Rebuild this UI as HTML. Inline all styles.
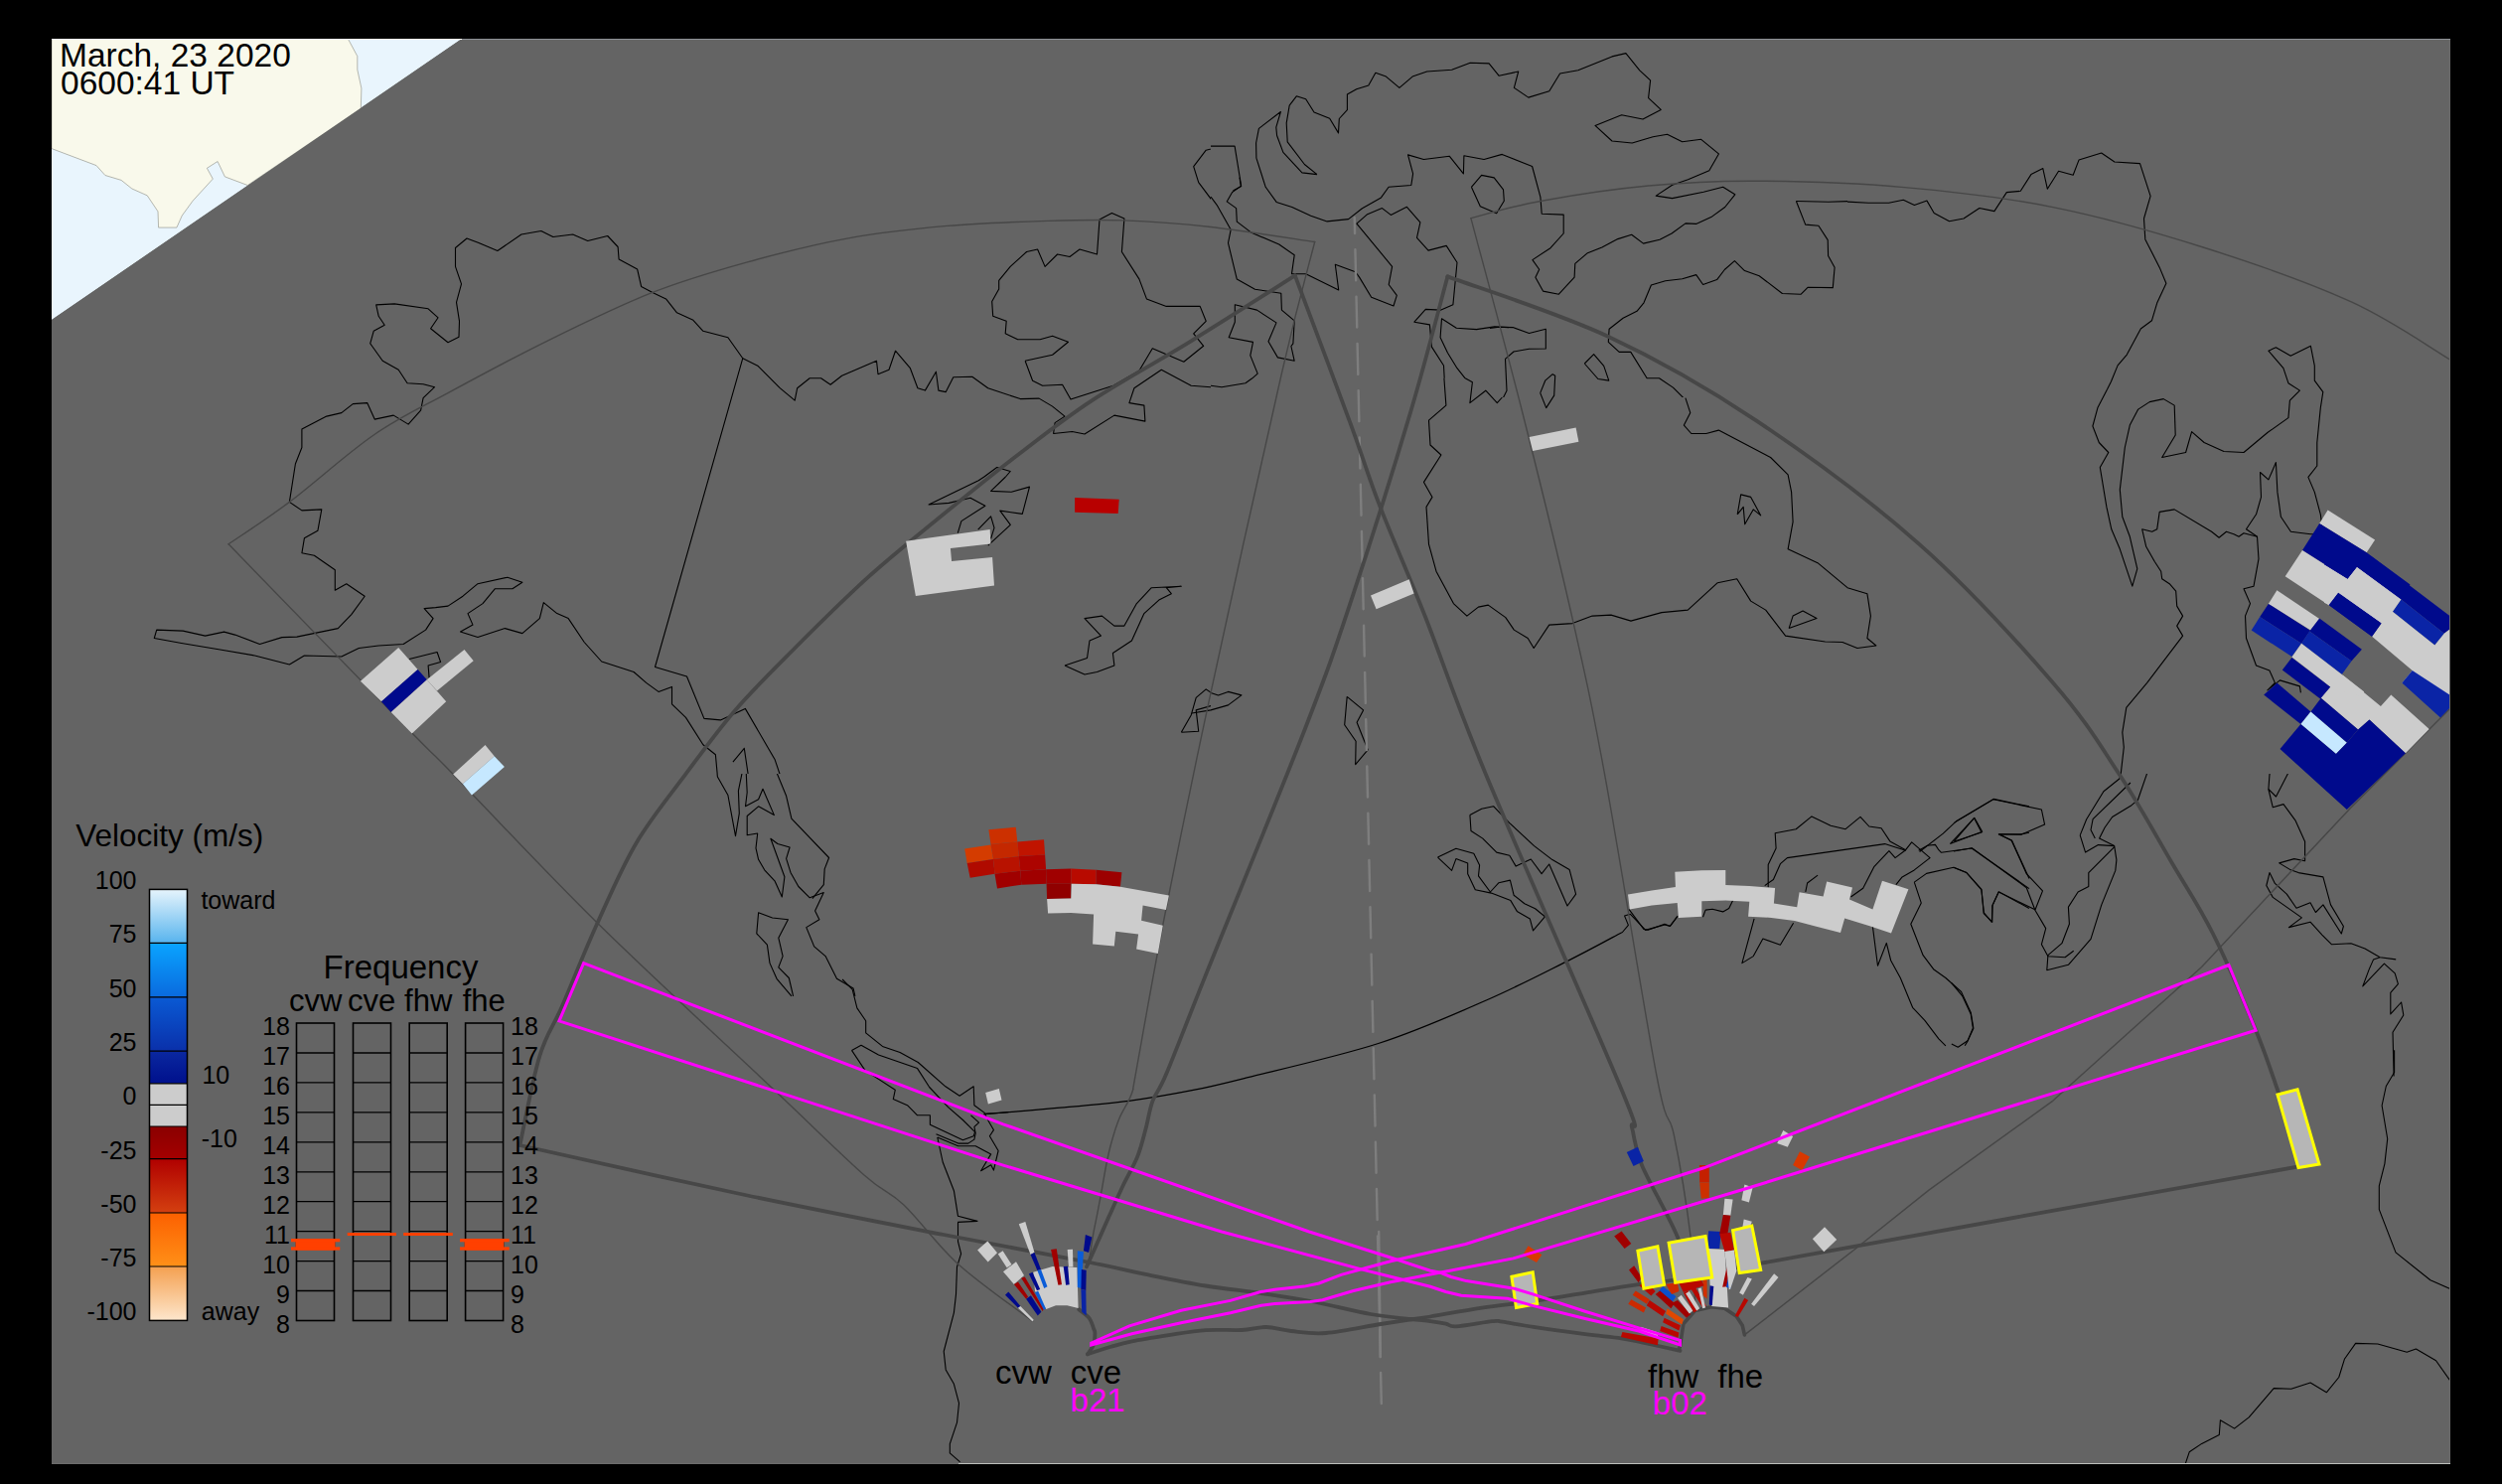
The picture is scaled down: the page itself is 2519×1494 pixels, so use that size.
<!DOCTYPE html>
<html><head><meta charset="utf-8">
<style>
html,body{margin:0;padding:0;background:#000;overflow:hidden}
svg{display:block}
text{font-family:"Liberation Sans",sans-serif}
</style></head><body>
<svg xmlns="http://www.w3.org/2000/svg" width="2519" height="1494" viewBox="0 0 2519 1494">
<defs>
<clipPath id="mc"><rect x="52" y="39" width="2415" height="1435"/></clipPath>
<clipPath id="cA"><rect x="52" y="39" width="1167" height="740"/></clipPath>
<clipPath id="cB"><rect x="1219" y="39" width="641" height="361"/></clipPath>
<clipPath id="cC"><polygon points="1860,39 2467,39 2467,779 1219,779 1219,400 1860,400"/></clipPath>
<clipPath id="cD"><rect x="52" y="779" width="1167" height="695"/></clipPath>
<clipPath id="cE"><rect x="1219" y="779" width="1248" height="695"/></clipPath>

<linearGradient id="g1" x1="0" y1="0" x2="0" y2="1"><stop offset="0" stop-color="#e6f4fc"/><stop offset="1" stop-color="#58b4ee"/></linearGradient>
<linearGradient id="g2" x1="0" y1="0" x2="0" y2="1"><stop offset="0" stop-color="#0aa4ff"/><stop offset="1" stop-color="#0a6ade"/></linearGradient>
<linearGradient id="g3" x1="0" y1="0" x2="0" y2="1"><stop offset="0" stop-color="#0a5ad4"/><stop offset="1" stop-color="#0a30aa"/></linearGradient>
<linearGradient id="g4" x1="0" y1="0" x2="0" y2="1"><stop offset="0" stop-color="#0a28a0"/><stop offset="1" stop-color="#00108c"/></linearGradient>
<linearGradient id="g5" x1="0" y1="0" x2="0" y2="1"><stop offset="0" stop-color="#8a0000"/><stop offset="1" stop-color="#a40000"/></linearGradient>
<linearGradient id="g6" x1="0" y1="0" x2="0" y2="1"><stop offset="0" stop-color="#b00000"/><stop offset="1" stop-color="#d44010"/></linearGradient>
<linearGradient id="g7" x1="0" y1="0" x2="0" y2="1"><stop offset="0" stop-color="#fc6000"/><stop offset="1" stop-color="#ff9018"/></linearGradient>
<linearGradient id="g8" x1="0" y1="0" x2="0" y2="1"><stop offset="0" stop-color="#f4a050"/><stop offset="1" stop-color="#fde6cc"/></linearGradient>

</defs>
<rect x="0" y="0" width="2519" height="1494" fill="#000"/>
<g clip-path="url(#mc)">
<rect x="52" y="39" width="2415" height="1435" fill="#646464"/>

<polygon points="52,39 465,39 52,322" fill="#e9f5fd"/>
<polygon points="52.0,39.1 350.4,39.1 359.8,56.6 359.8,70.1 363.9,88.9 363.3,109.2 249.3,186.5 226.4,177.9 219.1,162.5 208.4,169.3 214.3,180.1 194.1,202.2 183.3,217.0 177.9,229.1 159.6,229.1 159.0,212.9 148.2,196.8 132.9,190.0 122.1,181.4 105.9,176.5 97.0,166.6 52.0,149.6" fill="#f9f9eb" stroke="#8a8a80" stroke-width="0.6"/>
<polygon points="52,322.1 465,39 2467,39 2467,1474 52,1474" fill="#646464"/>

<g fill="none" stroke="#000" stroke-width="1.1" stroke-linejoin="round"><g clip-path="url(#cA)"><polyline points="747.8,360.7 732.9,339.8 707.9,333.3 697.9,322.3 681.5,314.8 670.5,300.9 657.0,294.4 645.6,288.4 641.6,270.9 623.1,261.0 622.1,248.5 611.7,237.5 591.7,242.5 576.7,236.0 556.8,238.5 544.8,232.5 524.9,236.0 500.9,252.5 482.0,244.5 470.0,240.0 458.5,249.5 458.5,268.4 464.5,285.9 459.5,304.4 462.5,323.3 462.0,339.3 451.0,344.8 433.6,330.8 441.1,319.8 431.1,310.8 397.2,305.9 378.7,306.9 381.2,318.3 387.2,327.3 376.2,333.3 372.7,345.8 385.2,363.2 401.2,372.2 410.1,385.7 426.1,386.7 437.6,389.7 426.1,400.6 423.6,413.1 411.1,427.1 396.2,418.1 377.2,422.1 369.7,405.6 355.3,406.6 343.8,415.6 328.8,419.1 303.9,432.1 303.9,450.5 297.4,467.0 291.4,505.4 303.9,513.9 323.8,512.9 319.9,534.3 306.4,541.8 303.9,556.8 316.4,559.2 337.3,573.7 337.3,594.2 348.8,587.7 367.2,600.2 353.8,618.6 340.3,632.6 298.9,641.1 283.9,641.6 261.5,648.5 236.6,639.1 225.6,636.1 206.6,640.1 184.2,635.1 157.7,634.1 155.3,642.5 182.7,647.5 221.6,654.0 256.5,660.0 291.4,669.0 306.4,660.0 343.8,661.0 361.3,652.5 381.2,650.0 406.1,648.5 428.6,634.1 436.1,622.6 427.1,612.6 438.6,611.6 451.0,610.1 466.0,600.2 481.0,587.7 510.9,581.2 525.9,586.2 515.9,592.7 498.4,592.7 486.0,607.6 471.0,617.6 476.0,629.1 463.5,636.1 481.0,641.6 508.4,632.6 525.9,637.6 543.3,622.6 547.3,606.6 560.8,617.6 572.2,622.6 588.2,646.5 605.7,666.0 638.1,676.5 650.6,687.4 663.0,696.4 676.5,691.4 676.5,708.9 690.5,722.4 707.9,749.8 720.4,759.8 722.9,787.2"/>
<polyline points="747.8,360.7 659.5,671.5 691.5,681.0 708.9,723.4 725.4,724.9 750.3,713.4 780.2,764.8 787.7,787.2"/>
<polyline points="412.1,663.5 440.1,656.5 443.6,666.5 431.1,670.0 432.1,682.5"/>
<polyline points="737.9,767.2 749.3,753.3 754.3,787.2"/>
<polyline points="747.8,360.7 762.8,368.2 785.2,390.7 800.2,403.1 802.7,390.7 815.2,380.7 826.6,380.7 836.1,387.2 847.6,378.2 882.5,363.2 884.0,376.7 895.0,372.2 901.5,353.2 916.4,370.7 923.9,390.7 931.4,393.1 942.4,374.2 944.9,393.1 952.3,394.6 959.8,379.7 978.8,379.2 994.7,390.7 1027.2,401.6 1046.1,401.1 1059.6,409.1 1072.0,419.1 1062.1,425.6 1060.6,436.5 1079.5,434.5 1092.0,437.0 1121.9,418.1 1152.9,424.1 1151.9,408.1 1136.9,405.6 1141.9,390.7 1169.3,372.2 1199.2,388.2 1230.7,390.7 1251.6,387.2 1266.6,375.7 1259.1,358.2 1259.1,345.8 1239.1,340.8 1243.1,308.4 1269.1,320.8 1284.0,328.3 1277.6,338.3 1289.0,358.2 1309.0,360.7"/>
<polyline points="1032.1,363.2 1039.6,383.2 1049.6,388.2 1069.6,387.2 1078.0,402.1 1120.9,388.2 1146.9,373.2 1160.3,350.8 1191.8,364.2 1211.7,348.3 1201.7,335.8 1214.2,323.3 1208.2,308.4 1174.3,308.4 1154.4,300.9 1146.9,280.9 1129.4,253.5 1131.9,220.1 1119.4,214.6 1107.0,221.1 1104.5,256.0 1087.0,251.0 1077.0,258.5 1064.6,256.0 1052.1,268.4 1044.6,251.0 1033.6,253.5 1017.2,268.4 1005.7,282.4 1005.7,290.9 998.7,303.4 999.7,318.3 1013.2,323.3 1012.2,335.8 1024.7,341.8 1047.1,341.8 1059.6,338.3 1075.5,344.3 1059.6,357.2 1032.1,363.2"/>
<polyline points="1309.0,233.5 1264.1,213.6 1251.6,208.6 1243.1,201.1 1234.2,197.6 1248.1,186.1 1244.1,147.7 1234.2,146.2 1214.2,151.2 1201.7,167.7 1206.7,183.7 1221.7,203.6 1238.1,231.0 1244.1,263.5 1253.1,288.4 1289.0,295.9 1290.0,310.8 1309.0,315.8"/>
<polyline points="1289.0,112.8 1266.6,128.8 1259.1,148.7 1264.1,168.7 1273.1,183.7 1284.0,193.6 1309.0,208.6"/>
<polyline points="1289.0,112.8 1291.5,138.8 1309.0,158.7"/>
<polyline points="1072.0,670.0 1092.0,679.0 1104.5,676.5 1121.9,670.0 1120.4,657.5 1139.4,645.0 1151.9,617.6 1166.8,604.1 1179.3,597.7 1174.3,591.7 1189.3,590.2 1159.3,591.7 1144.4,607.6 1131.9,630.1 1121.9,630.1 1109.5,620.1 1092.0,622.6 1108.5,640.1 1097.0,645.0 1094.5,662.5 1072.0,670.0"/>
<polyline points="1189.3,737.3 1206.7,736.3 1204.2,714.9 1221.7,709.9 1249.1,699.9 1231.7,692.4 1219.2,697.4 1214.2,693.9 1204.2,702.4 1199.2,719.9 1189.3,737.3"/>
<polyline points="964.3,536.6 967.9,524.6 991.9,509.3 977.0,501.3 955.4,506.4 935.1,508.0 985.2,483.8 990.9,480.0"/>
<polyline points="990.9,480.0 1003.7,470.5 1017.2,474.5 1012.5,480.0"/>
<polyline points="1012.5,480.0 997.6,494.4 1018.3,495.3 1036.5,490.1 1029.3,517.4 1006.8,514.1 1017.3,528.4 994.8,549.1"/>
<polyline points="984.7,533.2 997.6,519.8 1001.0,531.3 997.6,542.4"/></g>
<g clip-path="url(#cB)"><polyline points="1326.0,175.6 1310.9,173.9 1291.9,153.4 1285.6,136.5 1284.8,128.1 1289.4,112.5 1267.4,129.4 1264.6,144.0 1264.9,159.2 1274.2,188.3 1285.1,203.4 1300.8,208.5 1319.7,217.3 1336.1,222.9 1357.6,220.6 1371.5,209.7 1390.5,198.9 1398.1,188.3 1420.8,186.5 1422.6,174.9 1417.5,155.9 1433.4,160.5 1459.2,157.2 1473.4,174.9 1473.9,156.7 1494.1,160.5 1512.3,155.4 1542.6,167.5 1550.9,198.4 1552.2,215.3 1574.2,216.1 1574.2,235.0 1561.0,249.7 1542.9,261.6 1549.7,271.2 1545.9,279.2 1553.5,293.1 1569.4,296.2 1585.1,279.2 1585.8,265.3 1598.4,254.7 1612.9,248.9 1628.8,240.6 1642.7,236.3 1654.5,245.1 1671.0,241.3 1683.1,235.0 1697.0,224.9 1707.6,225.4 1722.8,218.6 1736.7,208.5 1746.8,195.8 1734.7,188.3 1715.2,193.3 1683.6,199.6 1667.2,197.1 1683.6,186.2 1699.5,180.7 1720.8,171.8 1730.4,154.9 1712.7,140.3 1693.7,142.8 1678.6,135.2 1664.2,137.7 1643.2,144.0 1623.0,142.0 1606.0,126.4 1632.6,115.7 1654.0,120.0 1672.2,110.4 1659.6,98.6 1661.6,80.9 1650.8,70.8 1636.9,53.6 1623.0,56.9 1588.8,70.8 1570.6,74.0 1559.8,91.7 1538.8,98.1 1524.4,88.4 1528.7,72.0 1509.2,76.3 1499.1,63.9 1480.2,63.2 1461.7,70.3 1436.7,72.0 1422.1,77.1 1408.9,88.4 1395.5,77.1 1384.9,73.3 1377.8,85.9 1365.7,89.7 1356.4,95.0 1356.4,110.7 1348.3,119.5 1347.5,133.9 1338.7,119.3 1323.0,113.0 1314.7,99.8 1305.3,96.8 1298.2,106.1 1295.2,123.8 1296.2,142.8 1313.4,165.5 1326.0,175.6"/>
<polyline points="1219.0,198.2 1225.1,206.3 1239.2,231.2 1236.5,244.7 1245.3,281.1 1263.5,291.2 1289.8,295.2 1290.4,312.1 1303.2,322.9 1301.9,345.8 1299.9,348.5 1303.2,363.3 1286.4,359.9 1277.0,343.7 1285.0,324.9 1265.5,312.1 1243.3,306.7 1243.3,324.2 1237.2,339.7 1261.5,344.4 1258.8,357.9 1266.2,376.1 1260.8,380.8"/>
<polyline points="1260.8,380.8 1253.9,385.7 1230.0,389.7 1219.0,388.2 1200.0,386.0"/>
<polyline points="1248.0,178.7 1249.3,187.4 1240.6,193.5 1235.2,202.9 1244.6,209.6 1245.3,223.1 1259.4,233.9 1287.7,246.0 1303.2,256.8 1300.5,275.7 1314.7,275.7 1347.7,291.9 1344.3,266.3 1364.6,273.7 1368.6,279.1 1380.7,299.3 1403.0,308.0 1406.3,297.3 1398.2,286.5 1401.6,268.3 1365.9,225.1 1376.7,215.7 1391.5,209.6 1400.3,216.4 1416.4,208.3 1429.9,223.8 1426.5,239.3 1438.0,252.1 1456.2,247.4 1467.0,264.2 1462.9,306.7 1450.8,312.1 1435.3,311.4 1423.9,324.2 1439.4,326.9 1441.4,349.1 1453.5,368.0 1454.2,380.8"/>
<polyline points="1475.1,380.8 1467.0,370.7 1457.5,355.2 1450.1,339.7 1451.5,320.8 1466.3,330.3 1486.5,331.6 1504.7,328.9 1519.0,329.6"/>
<polyline points="1481.4,188.3 1491.6,176.4 1504.2,178.9 1513.5,190.8 1514.3,202.2 1506.7,214.8 1490.3,207.7 1481.4,188.3"/>
<polyline points="1808.4,202.5 1840.9,203.3 1862.6,202.5"/>
<polyline points="1808.4,202.5 1817.7,226.1 1830.9,227.3 1840.2,241.6 1840.6,257.6 1847.1,269.2 1845.3,289.6 1820.0,289.3 1813.0,296.3 1794.4,295.5 1771.2,277.7 1756.5,272.6 1746.4,262.7 1736.3,271.5 1728.6,281.6 1714.6,286.5 1707.7,276.6 1693.7,280.8 1676.7,282.7 1662.4,287.0 1655.0,304.8 1648.0,313.3 1634.1,320.3 1620.1,331.2 1619.3,344.3 1630.2,354.4 1641.8,354.4 1658.1,380.8 1670.5,380.8 1684.4,390.1 1696.8,402.5"/>
<polyline points="1500.0,330.4 1509.3,329.2 1523.2,329.6 1539.5,335.5 1556.3,331.2 1556.3,351.0 1539.5,351.3 1524.0,354.0 1515.5,361.4 1517.0,393.2 1512.4,402.5"/>
<polyline points="1595.3,366.0 1604.6,356.7 1614.7,368.4 1619.8,383.1 1608.9,381.5 1595.3,366.0"/>
<polyline points="1217.4,147.1 1243.1,147.1 1249.7,187.5 1241.4,192.1"/></g>
<g clip-path="url(#cC)"><polyline points="1854.7,202.9 1881.1,204.2 1901.7,204.2 1916.3,201.3 1927.4,206.5 1940.0,202.1 1947.2,214.5 1962.5,222.7 1977.0,220.0 1992.9,209.5 2007.9,212.6 2020.3,193.6 2034.3,192.3 2044.9,175.6 2056.8,169.6 2061.3,190.2 2072.6,172.2 2087.2,176.2 2093.0,161.1 2115.7,154.0 2128.9,163.0 2154.5,164.6 2165.1,197.3 2158.5,220.0 2159.8,240.9 2174.3,269.4 2180.9,285.3 2171.7,305.1 2166.4,322.8 2155.3,331.0 2141.3,357.1 2132.1,367.9 2125.4,384.3 2121.5,392.0"/>
<polyline points="2121.5,392.0 2111.9,410.6 2106.9,429.0 2113.3,445.5 2122.8,455.5 2114.3,470.5 2120.9,510.4 2125.8,532.8 2134.3,552.8 2146.8,590.2 2151.8,572.7 2144.3,540.3 2136.8,520.3 2134.3,492.9 2139.3,450.5 2144.3,428.1 2152.7,412.1 2164.2,404.6 2178.2,401.6 2189.2,408.1 2190.2,438.0 2176.7,460.5 2200.6,455.5 2206.6,434.6 2219.1,445.5 2239.0,454.5 2259.0,455.5 2282.9,435.5 2303.9,420.6 2305.4,403.1 2315.4,393.1 2303.9,385.7 2298.9,370.7 2283.9,353.2 2291.4,349.7 2306.2,358.2 2326.4,348.3 2330.3,368.2 2330.3,383.2 2338.8,394.6 2336.3,410.6 2332.8,445.5 2332.8,469.0 2323.9,480.4 2330.3,495.4 2336.3,517.8 2338.8,537.8"/>
<polyline points="2338.8,537.8 2326.3,537.8 2306.4,535.3 2296.4,520.3 2292.9,495.4 2291.4,465.5 2283.9,482.9 2275.5,475.5 2276.5,500.4 2271.5,517.8 2261.5,532.8 2272.5,540.3 2274.0,562.7 2269.0,590.2 2259.0,592.7 2265.5,607.6 2260.5,620.1 2261.5,642.5 2271.5,670.0 2284.9,675.0 2290.4,687.4 2282.9,694.9 2295.4,684.9 2315.4,690.9 2316.4,697.4"/>
<polyline points="2272.5,540.3 2259.0,536.8 2254.0,540.3 2249.0,537.8 2241.5,535.3 2234.1,541.3 2226.6,535.3 2189.2,512.9 2174.2,515.4 2171.7,532.8 2166.7,535.3 2156.7,532.8 2160.7,550.3 2169.2,565.2 2175.7,575.2 2176.7,582.7 2184.2,587.7 2190.7,595.2 2191.7,610.1 2197.6,620.1 2191.7,630.1 2197.6,640.1 2161.7,687.4 2140.8,712.4 2136.8,737.3 2138.3,752.3 2134.3,787.2"/></g>
<g clip-path="url(#cD)"><polyline points="764.5,705.0 780.2,765.4 777.6,767.2 791.6,801.3 796.9,824.1 834.6,863.5 830.2,874.9 829.3,890.7 817.9,904.7"/>
<polyline points="698.8,740.0 710.2,754.9 720.7,764.5 722.4,782.1 732.9,800.5 740.5,841.6 744.3,818.9 743.4,796.1 747.0,778.6 736.4,764.5 746.1,767.2 751.3,752.3 754.8,768.0 751.3,779.4 752.2,797.8 750.5,811.8 763.6,804.8 768.0,794.3 779.4,820.6 763.6,811.8 752.2,821.5 752.2,840.8 762.7,839.0 761.0,853.9 763.6,865.3 769.7,875.8 780.2,887.2 787.3,903.0 789.9,882.8 775.9,844.3 782.9,849.5 795.1,853.0 791.6,864.4 796.0,878.4 803.9,892.5 815.3,903.8 829.3,898.6 820.6,917.0 824.9,925.8 811.8,933.6 819.7,952.9 831.1,962.6 842.5,985.3 859.1,995.0 860.9,1002.9"/>
<polyline points="798.6,1002.9 794.3,984.5 783.8,973.9 788.1,962.6 783.8,944.2 793.4,925.8 777.6,924.0 763.6,918.7 761.8,939.8 772.4,951.2 775.0,969.6 782.0,985.3 796.9,1002.9"/>
<polyline points="848.1,986.0 858.2,996.1 862.9,1014.9 871.7,1027.7 871.7,1039.9 888.5,1053.4 906.1,1059.4 924.3,1069.5 951.9,1093.8 966.1,1103.2 980.2,1093.8 980.9,1112.7 991.0,1120.1 995.0,1128.2 1000.4,1137.6 996.4,1143.7 1005.1,1158.5 1000.4,1178.1 997.7,1172.7 987.6,1178.7 997.7,1161.9 982.2,1153.8 964.7,1153.8 943.8,1145.0"/>
<polyline points="857.5,1057.4 867.0,1052.3 884.5,1062.1 923.6,1075.6 935.7,1094.5 954.6,1114.7 969.4,1127.5 981.6,1139.6 980.2,1143.7 969.4,1147.7 936.4,1132.2 936.4,1122.8 923.6,1122.8 913.5,1112.7 899.3,1106.6 901.3,1097.2 871.0,1077.6 857.5,1057.4"/>
<polyline points="977.5,1122.8 985.6,1130.2 980.9,1134.3 982.2,1141.0 980.9,1147.1 974.8,1151.1 964.7,1151.1 942.5,1141.7"/>
<polyline points="991.0,1121.4 1001.8,1120.8 1015.3,1119.7"/>
<polyline points="943.8,1145.0 949.2,1170.0 960.4,1198.7 964.5,1224.3 984.0,1229.4 964.5,1230.4 964.5,1249.9 967.6,1262.2 963.5,1275.5 962.5,1303.1 960.4,1321.6 950.2,1360.5 952.2,1378.9 960.4,1393.3 965.5,1412.7 963.5,1432.2 956.3,1453.7 956.3,1462.9 966.6,1471.9"/></g>
<g clip-path="url(#cE)"><polyline points="1447.5,863.1 1465.9,854.2 1483.8,859.2 1489.6,871.0 1488.5,881.8 1500.4,898.0 1509.0,888.7 1520.4,886.1 1524.1,901.2 1534.9,909.8 1545.6,914.8 1555.4,922.8 1543.5,936.8 1540.3,924.9 1527.3,917.4 1520.9,906.6 1501.4,899.1 1485.3,895.8 1477.7,879.7 1477.7,868.9 1465.9,864.6 1461.6,876.4 1447.5,863.1"/>
<polyline points="1479.9,820.4 1491.7,814.3 1503.6,811.7 1519.8,828.6 1544.6,851.6 1562.9,865.6 1580.1,875.4 1586.6,900.1 1578.0,912.0 1559.7,870.0 1552.1,879.7 1541.3,865.0 1526.2,872.1 1519.8,861.3 1506.8,858.1 1492.8,844.1 1481.0,836.5 1479.9,820.4"/>
<polyline points="1633.0,939.0 1639.4,931.4 1635.6,922.1 1641.2,920.2 1644.8,923.9 1656.7,936.4 1666.4,933.6 1676.1,931.0 1681.5,932.5 1689.0,922.1"/>
<polyline points="1640.0,915.3 1654.9,935.4 1659.3,936.3 1666.3,933.7 1675.9,930.2 1681.2,932.3 1689.1,922.3"/>
<polyline points="1714.5,923.2 1717.1,916.1 1724.1,915.3 1734.6,917.9 1740.7,914.4 1745.1,905.6"/>
<polyline points="1780.2,893.4 1780.2,870.6 1788.1,854.0 1787.2,838.7 1808.2,834.7 1824.0,821.9 1843.2,831.2 1858.1,834.7 1873.0,822.4 1881.8,832.0 1894.1,833.8 1902.8,846.9 1918.6,855.7 1924.7,847.8 1943.1,863.6 1927.3,875.9 1915.1,882.9 1908.9,890.7"/>
<polyline points="1776.7,891.6 1785.4,885.5 1792.4,869.7 1799.4,863.6 1897.6,849.6 1918.6,856.2"/>
<polyline points="1863.4,903.0 1875.7,894.2 1887.0,872.3 1901.9,856.6 1908.1,863.6 1918.6,855.7"/>
<polyline points="1830.1,881.1 1819.6,889.0 1817.8,897.8"/>
<polyline points="1766.1,924.9 1753.9,969.6 1765.3,962.6 1774.9,945.1 1792.4,951.2 1805.6,929.3"/>
<polyline points="1931.7,856.2 1940.5,851.3 1948.4,850.4 1951.9,855.7 1954.5,858.3 1985.2,854.0 2043.0,894.6"/>
<polyline points="1932.6,857.5 1956.3,839.1 1969.4,826.8 2007.1,804.4 2043.0,811.9"/>
<polyline points="1963.3,849.6 1987.8,823.3 1995.7,837.3 1963.3,849.6"/>
<polyline points="2043.0,838.2 2034.2,839.9 2012.3,839.9 2025.5,846.1 2043.0,884.6"/>
<polyline points="1927.3,888.1 1939.6,879.4 1966.8,873.2 1979.9,878.5 1994.8,895.1 1997.4,918.8 2005.3,928.4 2006.2,910.9 2012.3,897.8 2043.0,914.4"/>
<polyline points="1927.3,888.1 1934.3,909.1 1923.8,930.2 1936.1,961.7 1946.6,975.7 1958.9,984.5 1974.6,998.5 1984.3,1019.5 1986.9,1035.3 1980.8,1048.4 1978.2,1052.8"/>
<polyline points="1885.3,931.9 1890.5,972.2 1899.3,949.4 1903.7,967.0 1913.3,984.5 1925.6,1014.3 1937.9,1027.4 1951.9,1045.8 1958.9,1052.8"/>
<polyline points="2094.2,840.9 2100.7,824.7 2117.9,796.7 2134.1,783.7 2139.5,757.8"/>
<polyline points="2140.6,757.8 2146.0,765.4 2162.1,777.2 2152.4,805.3 2146.0,810.7 2126.6,822.5 2119.0,833.3 2113.6,844.1 2128.7,851.6"/>
<polyline points="2094.2,840.9 2099.6,858.1 2112.5,850.6 2128.7,851.6 2130.9,865.6 2129.8,876.4 2115.8,910.9 2105.0,945.4 2082.4,971.3 2060.8,976.7 2061.9,961.6 2075.9,949.7 2083.4,930.3 2082.4,913.1 2092.1,898.0 2102.8,892.6 2102.8,878.6 2128.7,852.7"/>
<polyline points="2144.9,788.0 2107.1,824.7 2105.0,835.5 2109.3,844.1"/>
<polyline points="1967.0,828.6 2006.9,804.8 2055.4,815.0 2058.6,830.1 2034.9,840.2 2012.7,839.8 2025.2,846.2 2040.3,879.7 2056.5,896.9 2048.9,916.3"/>
<polyline points="1967.0,847.3 1995.0,838.1 1987.5,823.6 1967.0,847.3"/>
<polyline points="1967.0,857.0 1985.3,853.8 2040.3,893.7 2048.9,916.3 2059.7,934.6 2055.4,950.8 2061.9,962.7 2079.1,963.8 2087.7,957.3"/>
<polyline points="1967.0,873.2 1979.9,878.6 1995.0,895.8 1997.2,919.6 2005.8,928.2 2005.8,912.0 2012.3,898.0 2048.9,915.7"/>
<polyline points="2294.7,757.8 2285.0,779.4 2283.9,794.5 2291.5,802.0 2310.9,764.3"/>
<polyline points="2283.9,794.5 2288.3,812.8 2299.0,809.6 2310.9,825.8 2320.6,847.3 2320.6,866.7 2309.8,864.6 2294.7,868.9 2305.5,875.4 2314.1,878.6 2338.9,882.9 2346.5,910.9 2359.4,932.5 2357.3,940.0 2338.9,910.9 2331.4,918.5 2326.0,908.8 2312.0,914.2 2302.3,900.1 2290.4,889.4 2285.0,878.6 2281.8,891.5 2288.3,903.4 2317.4,923.9 2304.4,933.6 2326.0,928.2 2337.8,941.1 2347.6,950.8 2367.0,949.7 2381.0,955.1 2396.1,963.8 2412.2,965.9"/>
<polyline points="2396.1,963.8 2389.6,965.9 2385.3,975.6 2378.8,992.9 2400.4,970.2 2411.2,979.9 2414.4,990.7 2406.8,999.3 2406.8,1020.9 2417.6,1009.0 2419.8,1022.0 2409.0,1039.2 2410.1,1083.4"/>
<polyline points="1964.8,989.6 1975.6,1002.6 1984.2,1020.9 1986.4,1034.9 1981.0,1047.8 1971.3,1054.3 1964.8,1051.1"/>
<polyline points="2410.6,1057.2 2410.6,1079.5 2402.3,1093.5 2398.1,1113.0 2403.7,1146.5 2400.9,1171.6 2395.3,1193.9 2395.3,1217.6 2412.0,1260.9 2446.9,1288.8 2469.2,1298.6"/>
<polyline points="2198.6,1478.5 2204.2,1461.8 2216.7,1453.4 2234.3,1444.5 2235.4,1429.7 2249.6,1438.1 2264.2,1426.9 2289.3,1397.6 2306.8,1398.2 2326.1,1392.0 2342.3,1401.8 2354.8,1386.5 2360.4,1368.3 2371.6,1352.4 2393.9,1353.0 2423.2,1361.3 2432.4,1358.0 2452.5,1369.7 2469.2,1393.4"/></g>
<g><polyline points="1453.9,380.7 1455.9,408.1 1438.5,423.1 1440.0,448.0 1450.9,458.0 1433.5,485.4 1442.0,500.4 1436.0,510.4 1438.5,547.8 1446.0,575.2 1463.4,607.6 1476.9,620.1 1488.4,611.1 1498.3,609.1 1515.8,621.6 1524.3,634.1 1538.2,642.5 1544.2,652.5 1559.7,629.1 1583.1,627.6 1603.1,620.1 1622.0,619.1 1642.0,625.1 1672.9,616.6 1699.3,614.1 1729.3,586.7 1748.7,582.7 1762.7,605.1 1777.7,614.1 1797.6,640.1 1837.5,646.0 1855.0,646.5 1869.9,652.5 1888.9,650.0 1879.9,642.5 1883.4,620.1 1879.9,597.7 1860.0,591.7 1845.0,579.2 1830.0,566.7 1800.1,552.8 1805.1,525.3 1803.6,495.4 1800.1,477.9 1782.6,460.5 1730.3,433.1 1717.8,436.5 1702.8,436.5 1695.4,428.1 1701.8,415.6 1696.9,400.6"/>
<polyline points="1512.4,400.0 1507.3,405.6 1495.8,393.2 1479.9,405.6 1482.4,384.7 1475.1,380.8"/>
<polyline points="1550.7,395.6 1555.7,383.2 1563.2,376.7 1565.7,378.2 1564.7,398.1 1556.7,410.6 1550.7,395.6"/>
<polyline points="1749.2,517.9 1752.7,497.9 1762.7,500.4 1772.7,518.9 1765.2,512.9 1756.7,527.8 1755.2,510.4 1749.2,517.9"/>
<polyline points="1801.1,632.6 1805.1,620.1 1815.1,615.1 1829.0,622.6 1801.1,632.6"/>
<polyline points="1219.0,697.4 1226.5,699.9 1236.5,696.4 1249.9,699.9 1236.5,709.9 1219.0,714.9 1200.0,718.0"/>
<polyline points="1356.2,701.4 1372.6,714.9 1366.1,727.3 1377.1,754.8 1364.7,769.7 1365.1,746.3 1353.7,729.8 1356.2,701.4"/></g></g>
<polyline points="1363.7,219 1389.8,1366" fill="none" stroke="#7e7e7e" stroke-width="2.4" stroke-linejoin="round" stroke-linecap="round" stroke-dasharray="31,16.3" stroke-dashoffset="15" stroke-linecap="butt"/>
<polyline points="1388.2,1240 1389.8,1366" fill="none" stroke="#7e7e7e" stroke-width="2.4" stroke-linejoin="round" stroke-linecap="round" stroke-linecap="butt"/>
<polyline points="1390.1,1382 1390.8,1413" fill="none" stroke="#7e7e7e" stroke-width="2.4" stroke-linejoin="round" stroke-linecap="round" stroke-linecap="butt"/>
<path d="M990.9,1121.7 C1002.7,1120.7 1037.2,1117.9 1061.5,1115.7 C1085.8,1113.5 1113.4,1111.3 1136.5,1108.3 C1159.6,1105.3 1180.9,1101.5 1200.1,1097.7 C1219.3,1094.0 1220.5,1093.7 1251.8,1085.8 C1283.1,1077.9 1346.9,1063.6 1387.7,1050.5 C1428.5,1037.4 1464.7,1020.8 1496.4,1007.0 C1528.1,993.2 1555.3,978.9 1578.0,967.6 C1600.7,956.3 1623.3,943.8 1632.4,939.0" fill="none" stroke="#000" stroke-width="1.3" stroke-linejoin="round" stroke-linecap="round"/>
<path d="M1039.6,1330.1 C1027.1,1320.5 986.4,1292.2 964.8,1272.7 C943.2,1253.2 925.7,1227.9 909.9,1212.9 C894.1,1197.9 891.8,1202.2 870.0,1182.9 C848.2,1163.6 824.3,1139.7 779.4,1097.3 C734.5,1054.9 654.6,981.5 600.7,928.5 C546.8,875.5 487.6,811.6 456.0,779.2 C424.4,746.8 448.6,772.6 411.0,734.0 C373.4,695.4 260.2,578.8 230.1,547.8" fill="none" stroke="#474747" stroke-width="1.4" stroke-linejoin="round" stroke-linecap="round"/>
<path d="M230.1,547.8 C240.3,540.7 267.0,523.7 291.4,505.4 C315.8,487.1 349.6,456.3 376.2,438.0 C402.8,419.7 421.9,411.4 451.0,395.6 C480.1,379.8 516.5,360.2 550.8,343.3 C585.1,326.4 623.5,307.6 657.0,294.4 C690.5,281.2 719.0,273.2 751.6,264.1 C784.2,255.1 819.0,246.2 852.7,240.1 C886.4,234.0 920.1,230.3 953.8,227.4 C987.5,224.5 1025.4,223.3 1054.9,222.4 C1084.4,221.5 1103.4,220.9 1130.7,221.9 C1158.0,222.9 1186.8,224.9 1219.0,228.5 C1251.2,232.1 1306.2,241.0 1323.7,243.5" fill="none" stroke="#474747" stroke-width="1.4" stroke-linejoin="round" stroke-linecap="round"/>
<path d="M1323.7,243.5 C1318.2,265.4 1308.0,299.4 1290.6,375.0 C1273.1,450.6 1238.6,606.6 1219.0,697.4 C1199.4,788.2 1185.6,856.2 1173.0,920.0 C1160.4,983.8 1149.0,1050.5 1143.6,1080.0 C1138.2,1109.5 1141.9,1092.4 1140.7,1097.0 C1139.5,1101.6 1138.8,1102.6 1136.5,1107.6 C1134.2,1112.5 1129.5,1119.5 1126.6,1126.7 C1123.6,1133.9 1120.9,1143.2 1118.8,1150.7 C1116.7,1158.2 1115.4,1164.5 1113.9,1172.0 C1112.4,1179.5 1111.0,1188.2 1109.6,1196.0 C1108.2,1203.8 1106.9,1210.6 1105.4,1218.6 C1103.9,1226.6 1101.8,1235.8 1100.4,1244.1 C1099.0,1252.3 1097.5,1264.1 1096.9,1268.1" fill="none" stroke="#474747" stroke-width="1.4" stroke-linejoin="round" stroke-linecap="round"/>
<path d="M1707.0,1319.0 C1706.2,1307.0 1705.9,1276.0 1702.3,1246.7 C1698.7,1217.4 1691.1,1170.3 1685.4,1143.0 C1679.7,1115.7 1679.6,1143.6 1667.9,1083.0 C1656.2,1022.4 1629.7,856.4 1615.5,779.2 C1601.3,702.0 1596.3,680.7 1582.5,620.0 C1568.7,559.3 1549.6,481.7 1532.7,415.0 C1515.8,348.3 1489.5,252.2 1480.9,219.6" fill="none" stroke="#474747" stroke-width="1.4" stroke-linejoin="round" stroke-linecap="round"/>
<path d="M1480.9,219.6 C1492.8,216.7 1522.4,207.6 1552.2,202.2 C1582.0,196.8 1623.7,190.3 1659.6,187.0 C1695.5,183.7 1724.8,181.9 1767.7,182.2 C1810.7,182.5 1867.4,184.2 1917.3,188.6 C1967.2,193.0 2017.1,198.6 2067.0,208.6 C2116.9,218.6 2166.7,232.7 2216.6,248.5 C2266.5,264.3 2324.5,284.4 2366.2,303.4 C2407.9,322.3 2444.7,348.9 2467.0,362.2 C2489.3,375.5 2494.5,379.5 2500.0,383.0" fill="none" stroke="#474747" stroke-width="1.4" stroke-linejoin="round" stroke-linecap="round"/>
<polyline points="1756.4,1343.9 1867.4,1257.7 1942.3,1197.9 2067,1108.1 2216.6,973.4 2366.2,813.8 2480,700" fill="none" stroke="#474747" stroke-width="1.4" stroke-linejoin="round" stroke-linecap="round"/>
<path d="M1094.0,1275.2 C1095.9,1271.0 1101.6,1258.3 1105.4,1249.8 C1109.2,1241.3 1112.5,1233.7 1116.7,1224.3 C1120.9,1214.9 1126.1,1203.1 1130.8,1193.2 C1135.5,1183.3 1141.2,1174.3 1145.0,1164.9 C1148.8,1155.5 1150.9,1146.0 1153.5,1136.6 C1156.1,1127.2 1157.0,1117.7 1160.5,1108.3 C1164.0,1098.9 1165.6,1101.7 1174.7,1080.0 C1183.8,1058.3 1192.0,1036.1 1215.2,978.4 C1238.4,920.7 1289.7,796.1 1313.8,734.0 C1337.9,671.9 1342.3,658.9 1360.0,605.7 C1377.7,552.5 1403.9,469.6 1420.1,415.0 C1436.3,360.4 1451.2,301.2 1457.4,278.4" fill="none" stroke="#474747" stroke-width="3.8" stroke-linejoin="round" stroke-linecap="round"/>
<path d="M1457.4,278.4 C1484.2,288.4 1566.3,314.2 1618.0,338.3 C1669.7,362.4 1715.3,388.2 1767.7,423.1 C1820.1,458.0 1882.4,503.7 1932.3,547.8 C1982.2,591.8 2033.4,648.7 2067.0,687.4 C2100.6,726.1 2114.1,749.8 2134.0,780.0 C2153.9,810.2 2171.0,842.0 2186.7,868.7 C2202.4,895.4 2213.9,911.8 2228.0,940.0 C2242.1,968.2 2260.5,1011.3 2271.5,1038.0 C2282.5,1064.7 2290.2,1089.7 2294.0,1100.0" fill="none" stroke="#474747" stroke-width="3.8" stroke-linejoin="round" stroke-linecap="round"/>
<path d="M2313.0,1174.7 C2222.1,1191.0 1869.9,1254.1 1767.7,1272.7 C1665.5,1291.3 1720.0,1283.1 1700.0,1286.5 C1680.0,1289.9 1665.1,1290.8 1647.8,1293.3 C1630.5,1295.8 1613.2,1298.8 1595.9,1301.6 C1578.6,1304.4 1561.2,1307.4 1543.9,1309.9 C1526.6,1312.4 1509.3,1314.0 1492.0,1316.6 C1474.7,1319.2 1452.0,1323.5 1440.0,1325.5 C1428.0,1327.5 1428.3,1327.2 1420.0,1328.5 C1411.7,1329.8 1404.2,1330.8 1390.0,1333.0 C1375.8,1335.2 1350.0,1340.8 1335.0,1342.0 C1320.0,1343.2 1310.0,1341.0 1300.0,1340.0 C1290.0,1339.0 1283.3,1336.2 1275.0,1336.0 C1266.7,1335.8 1260.2,1338.5 1250.0,1339.0 C1239.8,1339.5 1226.1,1338.2 1213.9,1339.1 C1201.7,1339.9 1189.1,1342.2 1176.7,1344.1 C1164.3,1346.0 1149.3,1348.3 1139.6,1350.3 C1129.9,1352.2 1125.9,1353.6 1118.5,1355.8 C1111.1,1358.0 1098.9,1362.0 1095.0,1363.3" fill="none" stroke="#474747" stroke-width="3.8" stroke-linejoin="round" stroke-linecap="round"/>
<path d="M1095.0,1363.3 C1096.0,1361.7 1099.9,1357.0 1101.1,1353.4 C1102.3,1349.9 1102.4,1344.6 1102.4,1342.0 C1102.4,1339.4 1102.0,1340.1 1101.1,1337.6 C1100.1,1335.1 1099.2,1330.3 1096.7,1327.1 C1094.2,1323.9 1088.0,1319.8 1086.2,1318.3" fill="none" stroke="#474747" stroke-width="3.8" stroke-linejoin="round" stroke-linecap="round"/>
<path d="M1691.5,1359.8 C1685.1,1358.4 1662.9,1353.5 1653.0,1351.4 C1643.1,1349.3 1641.7,1348.7 1632.2,1347.3 C1622.7,1345.9 1610.6,1345.0 1595.9,1343.1 C1581.2,1341.2 1557.8,1338.0 1543.9,1335.9 C1530.0,1333.8 1519.6,1331.7 1512.7,1330.7 C1505.8,1329.7 1510.2,1329.3 1502.4,1330.1 C1494.6,1330.9 1473.8,1334.9 1466.0,1335.3 C1458.2,1335.7 1459.9,1333.6 1455.6,1332.7 C1451.3,1331.8 1445.9,1330.9 1440.0,1330.1 C1434.1,1329.3 1430.0,1329.2 1420.0,1328.0 C1410.0,1326.8 1396.7,1326.0 1380.0,1323.0 C1363.3,1320.0 1338.3,1313.5 1320.0,1310.0 C1301.7,1306.5 1287.7,1304.6 1270.0,1302.0 C1252.3,1299.4 1233.6,1297.7 1213.9,1294.5 C1194.2,1291.3 1171.4,1286.6 1152.0,1282.7 C1132.6,1278.8 1131.1,1277.6 1097.4,1271.0 C1063.7,1264.4 1007.9,1254.3 950.0,1243.0 C892.1,1231.7 821.1,1218.0 750.0,1203.0 C678.9,1188.0 561.2,1161.3 523.4,1153.0" fill="none" stroke="#474747" stroke-width="3.8" stroke-linejoin="round" stroke-linecap="round"/>
<path d="M523.4,1153.0 C526.7,1138.0 536.2,1086.5 543.3,1063.2 C550.4,1039.9 556.2,1035.3 565.8,1013.3 C575.4,991.3 588.2,958.4 600.7,931.0 C613.2,903.6 625.6,874.0 640.6,848.7 C655.6,823.4 673.9,801.5 690.5,779.2 C707.1,756.9 722.0,736.0 740.3,714.9 C758.6,693.8 777.8,675.0 800.2,652.5 C822.7,630.0 850.1,602.7 875.0,580.2 C899.9,557.8 924.8,538.2 949.8,517.8 C974.8,497.4 999.8,477.1 1024.7,458.0 C1049.7,438.9 1070.4,422.2 1099.5,403.1 C1128.6,384.0 1165.2,364.2 1199.2,343.3 C1233.2,322.4 1286.4,288.4 1303.8,277.4" fill="none" stroke="#474747" stroke-width="3.8" stroke-linejoin="round" stroke-linecap="round"/>
<path d="M1303.8,277.4 C1313.2,302.4 1345.9,389.0 1360.0,427.4 C1374.1,465.8 1376.2,475.8 1388.6,507.9 C1401.0,540.0 1416.7,574.8 1434.6,620.0 C1452.5,665.2 1462.7,699.5 1495.8,779.2 C1528.9,858.9 1608.5,1038.7 1633.0,1098.0 C1657.5,1157.3 1639.7,1122.5 1643.0,1135.0 C1646.3,1147.5 1645.1,1154.0 1653.0,1173.0 C1660.9,1192.0 1682.9,1228.7 1690.4,1249.0 C1697.9,1269.3 1696.7,1287.3 1698.0,1295.0" fill="none" stroke="#474747" stroke-width="3.8" stroke-linejoin="round" stroke-linecap="round"/>
<polyline points="1690.4,1357.5 1691.2,1356.5 1694.9,1332.7 1706.7,1319.4 1723,1315.7 1736.4,1317.2 1748.3,1325.3 1754.2,1334.2 1756.4,1343.9" fill="none" stroke="#474747" stroke-width="3.6" stroke-linejoin="round" stroke-linecap="round"/>
<polygon points="2343.6,513.4 2391.1,543.6 2382.7,556.2 2335.2,526.9" fill="#cccccc"/>
<polygon points="2335.2,526.9 2382.7,556.2 2426.5,588.4 2416.7,603.2 2372.8,570.8 2363.4,582.8 2318.0,554.1" fill="#000a8c"/>
<polygon points="2318.0,554.1 2363.4,582.8 2372.8,570.8 2416.7,603.2 2408.3,615.7 2397.9,627.7 2354.0,596.9 2345.1,609.4 2300.7,580.2" fill="#cccccc"/>
<polygon points="2354.0,596.9 2397.3,627.2 2387.9,640.8 2345.1,609.4" fill="#000a8c"/>
<polygon points="2292.4,594.3 2335.2,623.0 2326.3,634.5 2283.8,607.9" fill="#cccccc"/>
<polygon points="2340.0,560.0 2387.2,560.0 2467.0,620.4 2467.0,633.1 2460.8,637.8 2417.4,603.4 2373.0,570.9 2363.6,583.1 2340.0,568.5" fill="#000a8c"/>
<polygon points="2417.4,603.4 2460.8,637.8 2451.3,649.6 2408.9,615.7" fill="#0a24a6"/>
<polygon points="2340.0,568.5 2363.6,583.1 2373.0,570.9 2417.4,603.4 2408.9,615.7 2451.3,649.6 2460.8,637.8 2467.0,633.1 2467.0,700.0 2456.1,700.0 2418.3,687.4 2428.7,675.1 2388.1,640.7 2397.6,627.5 2354.2,596.8 2344.7,609.1 2340.0,606.7" fill="#cccccc"/>
<polygon points="2354.2,596.8 2397.6,627.5 2388.1,640.7 2344.7,609.1" fill="#000a8c"/>
<polygon points="2428.7,675.1 2467.0,700.0 2467.0,712.0 2457.0,722.5 2418.3,687.4" fill="#0a24a6"/>
<polygon points="2283.8,607.9 2326.0,634.8 2317.1,647.8 2275.2,621.1" fill="#000a8c"/>
<polygon points="2275.2,621.1 2317.1,647.8 2307.4,661.1 2266.7,634.5" fill="#0a24a6"/>
<polygon points="2335.2,622.6 2377.9,653.7 2367.5,665.6 2325.2,635.6" fill="#000a8c"/>
<polygon points="2325.2,635.6 2367.5,665.6 2357.8,678.9 2317.1,647.8" fill="#0a24a6"/>
<polygon points="2307.4,661.9 2346.3,691.5 2336.3,703.8 2297.8,674.5" fill="#000a8c"/>
<polygon points="2332.8,680.0 2359.1,680.0 2396.9,710.9 2407.3,699.6 2445.7,734 2421.9,758.2 2385.5,724.6 2374.1,734.6 2336.8,702.7 2346.4,691.4" fill="#cccccc"/>
<polygon points="2317.1,647.8 2357.8,678.9 2380.0,696.3 2380.0,702.6 2346.3,691.5 2307.4,661.5" fill="#cccccc"/>
<polygon points="2292.5,687.6 2326.4,716.4 2316.4,729.1 2279.2,699.5" fill="#000a8c"/>
<polygon points="2336.8,702.7 2374.1,734.6 2362.8,747.8 2326.4,716.4" fill="#000a8c"/>
<polygon points="2326.4,716.4 2362.8,747.8 2351.9,759.1 2316.4,729.1" fill="#c6e8ff"/>
<polygon points="2295.5,754.1 2316.4,729.1 2351.9,759.1 2362.8,747.8 2374.1,734.6 2385.5,724.6 2421.9,758.2 2362.8,815.0" fill="#000a8c"/>
<polygon points="401.2,651.9 420.6,674.0 384.0,706.3 362.9,685.8" fill="#cccccc"/>
<polygon points="420.6,674.0 429.8,684.2 393.7,717.1 384.0,706.3" fill="#000a8c"/>
<polygon points="429.8,684.2 449.2,706.3 414.7,738.6 393.7,717.1" fill="#cccccc"/>
<polygon points="467.5,654.0 476.7,665.3 440.0,695.5 429.8,684.2" fill="#cccccc"/>
<polygon points="488.5,750.0 497.7,761.3 465.9,789.3 456.2,779.6" fill="#cccccc"/>
<polygon points="497.7,761.3 507.9,772.1 475.0,800.6 465.9,789.3" fill="#c6e8ff"/>
<polygon points="912.1,544.7 996.7,532.9 997.4,547.6 956.9,551.9 958.1,564.9 999.1,561.1 1001.0,589.4 921.9,600.1" fill="#cccccc"/>
<polygon points="1082.1,501.1 1126.7,502.8 1125.7,516.9 1082.1,515.7" fill="#b80000"/>
<polygon points="971.2,854.4 997.5,850.4 1000.0,865.0 973.7,869.1" fill="#d43c00"/>
<polygon points="973.7,869.1 1000.0,865.0 1001.5,879.7 976.7,883.7" fill="#b00a00"/>
<polygon points="995.4,835.2 1022.7,832.7 1024.3,847.4 997.5,849.9" fill="#cc3000"/>
<polygon points="997.5,849.9 1024.3,847.4 1025.8,862.0 1000.0,865.0" fill="#c42800"/>
<polygon points="1000.0,865.0 1025.8,862.0 1027.3,876.7 1001.5,879.7" fill="#b81200"/>
<polygon points="1001.5,879.7 1027.3,876.7 1028.3,890.8 1004.0,894.4" fill="#a00000"/>
<polygon points="1024.3,847.4 1051.0,845.3 1052.1,860.5 1025.8,862.0" fill="#c01400"/>
<polygon points="1025.8,862.0 1052.1,860.5 1053.1,875.2 1027.3,876.7" fill="#ac0400"/>
<polygon points="1027.3,876.7 1053.1,875.2 1053.6,889.8 1028.3,890.8" fill="#a00000"/>
<polygon points="1053.1,875.2 1078.3,874.6 1078.3,889.8 1053.6,889.8" fill="#a00000"/>
<polygon points="1078.3,874.6 1103.6,875.7 1103.6,890.3 1078.3,889.8" fill="#b80a00"/>
<polygon points="1103.6,875.7 1129.4,878.2 1127.9,892.8 1103.6,890.3" fill="#9c0000"/>
<polygon points="1053.6,889.8 1078.3,889.8 1078.3,904.5 1054.1,905.0" fill="#900000"/>
<polygon points="1054.1,905.0 1078.3,904.5 1078.8,889.8 1103.6,890.3 1127.9,892.8 1151.6,896.9 1176.9,901.4 1173.9,916.1 1150.6,911.5 1149.1,926.7 1170.8,931.8 1165.8,960.1 1144.1,955.5 1146.1,940.4 1123.3,937.8 1121.8,952.5 1100.1,950.5 1101.1,920.6 1078.3,919.1 1055.1,919.6" fill="#cccccc"/>
<polygon points="1639.0,900.6 1663.0,896.4 1686.9,893.1 1686.3,877.8 1713.3,876.3 1737.3,876.0 1737.3,891.0 1761.3,891.9 1787.1,894.0 1785.9,909.6 1809.2,913.2 1811.6,898.2 1835.6,902.4 1839.2,887.6 1865.0,893.4 1862.0,905.4 1885.4,915.6 1895.0,886.8 1921.4,895.2 1904.0,939.5 1882.4,932.3 1857.2,924.5 1853.0,938.9 1829.6,932.9 1806.8,926.9 1783.5,923.9 1760.1,922.7 1761.3,907.8 1737.3,906.6 1713.3,907.2 1713.3,922.7 1689.9,923.9 1688.7,909.0 1663.0,911.4 1640.8,915.6" fill="#cccccc"/>
<polygon points="1539.6,439.9 1586.6,430.5 1589.4,444.7 1543.1,454.0" fill="#cccccc"/>
<polygon points="1380.0,599.5 1418.7,583.3 1423.6,597.4 1385.6,613.3" fill="#cccccc"/>
<polygon points="1040.3,1280.7 1059.7,1275.1 1084.4,1275.9 1085.6,1317.1 1074.3,1314.3 1063.0,1314.3 1053.3,1317.9 1042.0,1299.7" fill="#cccccc"/>
<polygon points="1025.8,1232.2 1032.3,1230.0 1041.5,1260.9 1037.5,1263.0" fill="#cccccc"/>
<polygon points="1037.5,1263.0 1041.5,1260.9 1048.0,1277.9 1044.4,1279.1" fill="#000a8c"/>
<polygon points="1044.4,1279.1 1048.0,1277.9 1054.5,1295.3 1051.2,1296.9" fill="#0a5cd8"/>
<polygon points="984.1,1258.5 994.3,1249.6 1004.0,1261.3 994.7,1270.6" fill="#cccccc"/>
<polygon points="1004.8,1262.5 1009.6,1259.3 1018.5,1273.1 1013.7,1276.3" fill="#cccccc"/>
<polygon points="1010.0,1280.3 1023.0,1270.2 1031.0,1284.0 1020.9,1292.9" fill="#cccccc"/>
<polygon points="1020.9,1292.9 1025.0,1290.4 1035.1,1305.4 1033.1,1307.8" fill="#a00000"/>
<polygon points="1028.2,1286.8 1031.8,1285.6 1050.8,1317.9 1049.6,1320.0" fill="#a00000"/>
<polygon points="1012.0,1303.8 1015.3,1300.5 1027.4,1315.1 1025.0,1316.7" fill="#000a8c"/>
<polygon points="1025.0,1316.7 1027.4,1315.1 1040.7,1328.8 1039.5,1330.5" fill="#cccccc"/>
<polygon points="1033.1,1307.8 1037.9,1304.2 1048.4,1320.8 1044.8,1324.4" fill="#000a8c"/>
<polygon points="1042.0,1301.0 1045.2,1299.7 1052.9,1317.5 1050.8,1318.7" fill="#0a5cd8"/>
<polygon points="1035.9,1282.4 1039.5,1280.7 1047.2,1298.1 1044.0,1299.3" fill="#000a8c"/>
<polygon points="1058.1,1258.1 1063.8,1257.3 1069.0,1293.3 1065.4,1293.7" fill="#a00000"/>
<polygon points="1070.7,1275.1 1075.1,1274.7 1076.7,1293.3 1073.1,1293.7" fill="#000a8c"/>
<polygon points="1074.7,1258.1 1080.0,1257.7 1080.4,1275.5 1075.9,1275.5" fill="#cccccc"/>
<polygon points="1084.8,1259.3 1090.9,1260.1 1088.8,1296.9 1084.8,1296.1" fill="#0a5cd8"/>
<polygon points="1092.9,1243.1 1099.4,1245.6 1096.1,1260.9 1090.9,1259.3" fill="#000a8c"/>
<polygon points="1088.8,1277.9 1093.7,1278.7 1093.3,1298.9 1088.4,1298.1" fill="#000a8c"/>
<polygon points="1088.4,1298.1 1093.3,1298.9 1093.7,1324.4 1089.2,1320.8" fill="#0a24a6"/>
<polygon points="1637.8,1160.0 1648.9,1154.8 1654.9,1168.9 1644.5,1174.1" fill="#0a24a6"/>
<polygon points="1710.9,1172.9 1720.8,1172.9 1720.8,1190.4 1711.2,1190.4" fill="#c42000"/>
<polygon points="1711.2,1190.4 1720.8,1190.4 1720.8,1206.0 1712.7,1206.7" fill="#cc3000"/>
<polygon points="1625.2,1244.5 1632.6,1239.6 1642.3,1251.9 1635.6,1257.1" fill="#a00000"/>
<polygon points="1719.3,1257.1 1736.4,1257.9 1740.1,1316.4 1723.1,1314.9" fill="#cccccc"/>
<polygon points="1720.1,1239.3 1732.7,1240.1 1731.2,1257.1 1719.3,1257.1" fill="#0a24a6"/>
<polygon points="1736.4,1206.7 1744.6,1207.5 1742.3,1223.8 1734.9,1223.0" fill="#cccccc"/>
<polygon points="1734.9,1223.0 1742.3,1223.8 1739.4,1242.3 1731.2,1242.3" fill="#a00000"/>
<polygon points="1731.2,1242.3 1742.3,1240.8 1746.0,1258.6 1736.4,1260.1" fill="#b80800"/>
<polygon points="1742.3,1258.6 1746.8,1260.1 1740.1,1294.9 1734.2,1295.7" fill="#a00000"/>
<polygon points="1741.6,1278.6 1746.8,1279.4 1742.3,1297.2 1737.9,1295.7" fill="#0a50cc"/>
<polygon points="1736.4,1260.1 1746.0,1258.6 1748.3,1279.4 1742.3,1297.2 1740.8,1298.6" fill="#cccccc"/>
<polygon points="1721.6,1294.2 1725.3,1294.9 1723.8,1314.2 1720.8,1313.5" fill="#000a8c"/>
<polygon points="1756.4,1192.6 1764.6,1195.6 1760.9,1210.4 1753.4,1208.2" fill="#cccccc"/>
<polygon points="1755.7,1227.5 1763.8,1229.7 1760.9,1237.9 1754.2,1236.4" fill="#cccccc"/>
<polygon points="1759.4,1286.0 1763.8,1287.5 1754.9,1303.8 1751.2,1301.6" fill="#cccccc"/>
<polygon points="1786.1,1282.3 1790.5,1286.0 1766.0,1314.9 1763.1,1312.7" fill="#cccccc"/>
<polygon points="1756.4,1306.8 1760.1,1309.0 1749.7,1326.1 1746.8,1324.6" fill="#b80800"/>
<polygon points="1640.0,1278.6 1645.2,1274.2 1652.6,1286.0 1649.7,1291.2" fill="#a00000"/>
<polygon points="1650.4,1294.2 1656.3,1289.7 1666.7,1300.1 1662.3,1304.6" fill="#b80800"/>
<polygon points="1646.7,1299.4 1660.8,1308.3 1657.8,1312.7 1643.7,1303.8" fill="#cc2a00"/>
<polygon points="1642.3,1308.3 1657.1,1316.4 1654.9,1321.6 1639.3,1312.7" fill="#cc2a00"/>
<polygon points="1660.8,1309.0 1677.1,1320.1 1674.1,1325.3 1657.8,1314.2" fill="#b80800"/>
<polygon points="1674.1,1294.9 1687.5,1305.3 1683.8,1310.5 1669.7,1300.1" fill="#0a50cc"/>
<polygon points="1666.7,1303.1 1671.2,1299.4 1686.0,1312.0 1682.3,1317.2" fill="#a00000"/>
<polygon points="1678.6,1317.2 1694.9,1328.3 1693.4,1333.5 1677.1,1322.4" fill="#e04800"/>
<polygon points="1675.6,1326.8 1691.9,1334.2 1690.4,1339.4 1674.1,1331.3" fill="#b80800"/>
<polygon points="1672.6,1335.0 1690.4,1341.6 1689.7,1346.8 1671.2,1340.1" fill="#b80800"/>
<polygon points="1633.4,1340.9 1669.7,1347.6 1668.9,1354.2 1631.9,1346.1" fill="#b80800"/>
<polygon points="1651.9,1335.7 1669.7,1341.6 1668.9,1345.3 1650.4,1339.4" fill="#cccccc"/>
<polygon points="1683.0,1312.0 1689.0,1309.0 1702.3,1323.1 1697.9,1326.8" fill="#a00000"/>
<polygon points="1692.7,1303.8 1704.5,1319.4 1700.8,1322.4 1689.0,1306.8" fill="#cccccc"/>
<polygon points="1694.9,1301.6 1699.3,1299.4 1709.7,1318.7 1705.3,1321.6" fill="#b80800"/>
<polygon points="1700.8,1300.1 1711.2,1317.2 1708.2,1319.4 1697.1,1302.3" fill="#cccccc"/>
<polygon points="1706.7,1295.7 1717.9,1314.9 1714.2,1316.4 1702.3,1297.2" fill="#b80800"/>
<polygon points="1709.7,1297.2 1712.7,1296.4 1717.1,1316.4 1714.2,1317.2" fill="#cccccc"/>
<polygon points="1714.2,1288.3 1718.6,1288.3 1718.6,1307.5 1714.9,1304.6" fill="#d03000"/>
<polygon points="1690.4,1292.0 1712.7,1288.3 1715.6,1294.2 1694.9,1300.9" fill="#b80800"/>
<polygon points="1677.1,1292.7 1689.0,1291.2 1690.4,1300.1 1683.0,1303.1" fill="#cc2a00"/>
<polygon points="1648.9,1259.3 1668.9,1254.9 1675.6,1293.4 1654.9,1297.2" fill="#b6b6b6" stroke="#ffff00" stroke-width="3"/>
<polygon points="1680.1,1251.2 1717.1,1244.5 1723.8,1286.0 1686.7,1291.2" fill="#b6b6b6" stroke="#ffff00" stroke-width="3"/>
<polygon points="1744.6,1238.6 1763.8,1234.1 1772.7,1278.6 1751.2,1281.6" fill="#b6b6b6" stroke="#ffff00" stroke-width="3"/>
<polygon points="1789.2,1150.9 1795.3,1138.0 1805.1,1144.0 1799.8,1154.7" fill="#cccccc"/>
<polygon points="1805.1,1172.9 1812.0,1159.2 1821.9,1164.5 1814.3,1178.2" fill="#d83800"/>
<polygon points="1824.9,1247.3 1837.0,1235.2 1849.2,1248.1 1836.3,1260.2" fill="#cccccc"/>
<polygon points="1533.3,1263.3 1538.6,1254.2 1552.3,1263.3 1547.0,1270.9" fill="#d83800"/>
<polygon points="1521.9,1285.3 1543.2,1280.7 1547.7,1312.6 1526.5,1316.4" fill="#b6b6b6" stroke="#ffff00" stroke-width="3"/>
<polygon points="2293.0,1102.0 2313.1,1096.8 2335.0,1172.1 2314.0,1175.6" fill="#b6b6b6" stroke="#ffff00" stroke-width="3"/>
<polygon points="992.2,1099.9 1005.8,1096.1 1008.5,1107.5 994.9,1111.6" fill="#cccccc"/>
<polygon points="1098.7,1352.1 1137.1,1334.8 1189.1,1319.3 1238.7,1309.4 1268.4,1300.7 1283.3,1298.2 1313.0,1295.1 1327.9,1292.0 1350.2,1283.4 1372.5,1277.2 1400.0,1269.7 1475.5,1252.5 1715.3,1175.8 2243.9,971.5 2271.1,1037.2 1763.3,1195 1523.5,1266.9 1400.0,1290.8 1362.6,1299.5 1331.6,1308.8 1319.2,1310.6 1283.3,1312.5 1269.7,1314.3 1238.7,1321.8 1189.1,1331.7 1139.6,1342.8 1098.7,1354.0" fill="none" stroke="#ff00ff" stroke-width="3" stroke-linejoin="miter"/>
<polygon points="1691.5,1349.4 1649.9,1336.9 1595.9,1320.3 1543.9,1303.1 1523.1,1296.9 1476.4,1289.6 1460.8,1285.5 1450.4,1281.3 1440,1279.2 1400,1266 1318,1240 1010,1131.8 587.6,969.7 563,1027.9 1010,1173.1 1230,1240 1372.5,1278.4 1400,1285.2 1440,1295.3 1455.6,1300.5 1471.2,1304.2 1517.9,1307.3 1543.9,1314.6 1595.9,1327.5 1649.9,1340 1691.5,1354" fill="none" stroke="#ff00ff" stroke-width="3"/>

<text x="1002" y="1393" font-size="33" fill="#000">cvw</text>
<text x="1077.7" y="1393" font-size="33" fill="#000">cve</text>
<text x="1077.6" y="1421.2" font-size="33" fill="#ff00ff">b21</text>
<text x="1659.1" y="1397" font-size="33" fill="#000">fhw</text>
<text x="1729.3" y="1397" font-size="33" fill="#000">fhe</text>
<text x="1663.8" y="1424.4" font-size="33" fill="#ff00ff">b02</text>
<rect x="465" y="39" width="2002" height="1" fill="#8e9297"/>
<rect x="52" y="39" width="413" height="1" fill="#fdfdf8"/>
<rect x="965" y="1473" width="1502" height="1" fill="#bcbfbb"/>
<rect x="52" y="1473" width="913" height="1" fill="#6c6c6c"/>
<rect x="2466" y="40" width="1" height="1433" fill="#6a6a6a"/>

</g>

<text x="60" y="67" font-size="33.5" fill="#000">March, 23 2020</text>
<text x="61" y="95.2" font-size="33.5" fill="#000">0600:41 UT</text>
<text x="76.3" y="852" font-size="31.5" fill="#000">Velocity (m/s)</text>
<rect x="150.5" y="895.4" width="38" height="53.9" fill="url(#g1)"/>
<rect x="150.5" y="949.3" width="38" height="54.5" fill="url(#g2)"/>
<rect x="150.5" y="1003.8" width="38" height="54.3" fill="url(#g3)"/>
<rect x="150.5" y="1058.1" width="38" height="32.7" fill="url(#g4)"/>
<rect x="150.5" y="1090.8" width="38" height="21.5" fill="#cccccc"/>
<rect x="150.5" y="1112.3" width="38" height="21.7" fill="#cccccc"/>
<rect x="150.5" y="1134" width="38" height="32.6" fill="url(#g5)"/>
<rect x="150.5" y="1166.6" width="38" height="54.4" fill="url(#g6)"/>
<rect x="150.5" y="1221" width="38" height="54.0" fill="url(#g7)"/>
<rect x="150.5" y="1275" width="38" height="54.4" fill="url(#g8)"/>
<line x1="150.5" y1="949.3" x2="188.5" y2="949.3" stroke="#000" stroke-width="1.2"/>
<line x1="150.5" y1="1003.8" x2="188.5" y2="1003.8" stroke="#000" stroke-width="1.2"/>
<line x1="150.5" y1="1058.1" x2="188.5" y2="1058.1" stroke="#000" stroke-width="1.2"/>
<line x1="150.5" y1="1090.8" x2="188.5" y2="1090.8" stroke="#000" stroke-width="1.2"/>
<line x1="150.5" y1="1112.3" x2="188.5" y2="1112.3" stroke="#000" stroke-width="1.2"/>
<line x1="150.5" y1="1134" x2="188.5" y2="1134" stroke="#000" stroke-width="1.2"/>
<line x1="150.5" y1="1166.6" x2="188.5" y2="1166.6" stroke="#000" stroke-width="1.2"/>
<line x1="150.5" y1="1221" x2="188.5" y2="1221" stroke="#000" stroke-width="1.2"/>
<line x1="150.5" y1="1275" x2="188.5" y2="1275" stroke="#000" stroke-width="1.2"/>
<rect x="150.5" y="895.4" width="38" height="434.0" fill="none" stroke="#000" stroke-width="1.5"/>
<text x="137.5" y="895.4" font-size="25" text-anchor="end" fill="#000">100</text>
<text x="137.5" y="949.3" font-size="25" text-anchor="end" fill="#000">75</text>
<text x="137.5" y="1003.8" font-size="25" text-anchor="end" fill="#000">50</text>
<text x="137.5" y="1058.1" font-size="25" text-anchor="end" fill="#000">25</text>
<text x="137.5" y="1112.3" font-size="25" text-anchor="end" fill="#000">0</text>
<text x="137.5" y="1166.6" font-size="25" text-anchor="end" fill="#000">-25</text>
<text x="137.5" y="1221" font-size="25" text-anchor="end" fill="#000">-50</text>
<text x="137.5" y="1275" font-size="25" text-anchor="end" fill="#000">-75</text>
<text x="137.5" y="1329.4" font-size="25" text-anchor="end" fill="#000">-100</text>
<text x="202.4" y="915.3" font-size="25" fill="#000">toward</text>
<text x="203.4" y="1090.8" font-size="25" fill="#000">10</text>
<text x="202.8" y="1155" font-size="25" fill="#000">-10</text>
<text x="202.8" y="1328.5" font-size="25" fill="#000">away</text>
<text x="403.5" y="984.8" font-size="33" text-anchor="middle" fill="#000">Frequency</text>
<text x="317.6" y="1017.9" font-size="31" text-anchor="middle" fill="#000">cvw</text>
<text x="374" y="1017.9" font-size="31" text-anchor="middle" fill="#000">cve</text>
<text x="431.2" y="1017.9" font-size="31" text-anchor="middle" fill="#000">fhw</text>
<text x="487.3" y="1017.9" font-size="31" text-anchor="middle" fill="#000">fhe</text>
<rect x="298.5" y="1030" width="38" height="299.5" fill="none" stroke="#000" stroke-width="1.6"/>
<line x1="298.5" y1="1060.0" x2="336.5" y2="1060.0" stroke="#000" stroke-width="1.3"/>
<line x1="298.5" y1="1089.9" x2="336.5" y2="1089.9" stroke="#000" stroke-width="1.3"/>
<line x1="298.5" y1="1119.8" x2="336.5" y2="1119.8" stroke="#000" stroke-width="1.3"/>
<line x1="298.5" y1="1149.8" x2="336.5" y2="1149.8" stroke="#000" stroke-width="1.3"/>
<line x1="298.5" y1="1179.8" x2="336.5" y2="1179.8" stroke="#000" stroke-width="1.3"/>
<line x1="298.5" y1="1209.7" x2="336.5" y2="1209.7" stroke="#000" stroke-width="1.3"/>
<line x1="298.5" y1="1239.7" x2="336.5" y2="1239.7" stroke="#000" stroke-width="1.3"/>
<line x1="298.5" y1="1269.6" x2="336.5" y2="1269.6" stroke="#000" stroke-width="1.3"/>
<line x1="298.5" y1="1299.5" x2="336.5" y2="1299.5" stroke="#000" stroke-width="1.3"/>
<rect x="355.5" y="1030" width="38" height="299.5" fill="none" stroke="#000" stroke-width="1.6"/>
<line x1="355.5" y1="1060.0" x2="393.5" y2="1060.0" stroke="#000" stroke-width="1.3"/>
<line x1="355.5" y1="1089.9" x2="393.5" y2="1089.9" stroke="#000" stroke-width="1.3"/>
<line x1="355.5" y1="1119.8" x2="393.5" y2="1119.8" stroke="#000" stroke-width="1.3"/>
<line x1="355.5" y1="1149.8" x2="393.5" y2="1149.8" stroke="#000" stroke-width="1.3"/>
<line x1="355.5" y1="1179.8" x2="393.5" y2="1179.8" stroke="#000" stroke-width="1.3"/>
<line x1="355.5" y1="1209.7" x2="393.5" y2="1209.7" stroke="#000" stroke-width="1.3"/>
<line x1="355.5" y1="1239.7" x2="393.5" y2="1239.7" stroke="#000" stroke-width="1.3"/>
<line x1="355.5" y1="1269.6" x2="393.5" y2="1269.6" stroke="#000" stroke-width="1.3"/>
<line x1="355.5" y1="1299.5" x2="393.5" y2="1299.5" stroke="#000" stroke-width="1.3"/>
<rect x="412.2" y="1030" width="38" height="299.5" fill="none" stroke="#000" stroke-width="1.6"/>
<line x1="412.2" y1="1060.0" x2="450.2" y2="1060.0" stroke="#000" stroke-width="1.3"/>
<line x1="412.2" y1="1089.9" x2="450.2" y2="1089.9" stroke="#000" stroke-width="1.3"/>
<line x1="412.2" y1="1119.8" x2="450.2" y2="1119.8" stroke="#000" stroke-width="1.3"/>
<line x1="412.2" y1="1149.8" x2="450.2" y2="1149.8" stroke="#000" stroke-width="1.3"/>
<line x1="412.2" y1="1179.8" x2="450.2" y2="1179.8" stroke="#000" stroke-width="1.3"/>
<line x1="412.2" y1="1209.7" x2="450.2" y2="1209.7" stroke="#000" stroke-width="1.3"/>
<line x1="412.2" y1="1239.7" x2="450.2" y2="1239.7" stroke="#000" stroke-width="1.3"/>
<line x1="412.2" y1="1269.6" x2="450.2" y2="1269.6" stroke="#000" stroke-width="1.3"/>
<line x1="412.2" y1="1299.5" x2="450.2" y2="1299.5" stroke="#000" stroke-width="1.3"/>
<rect x="468.6" y="1030" width="38" height="299.5" fill="none" stroke="#000" stroke-width="1.6"/>
<line x1="468.6" y1="1060.0" x2="506.6" y2="1060.0" stroke="#000" stroke-width="1.3"/>
<line x1="468.6" y1="1089.9" x2="506.6" y2="1089.9" stroke="#000" stroke-width="1.3"/>
<line x1="468.6" y1="1119.8" x2="506.6" y2="1119.8" stroke="#000" stroke-width="1.3"/>
<line x1="468.6" y1="1149.8" x2="506.6" y2="1149.8" stroke="#000" stroke-width="1.3"/>
<line x1="468.6" y1="1179.8" x2="506.6" y2="1179.8" stroke="#000" stroke-width="1.3"/>
<line x1="468.6" y1="1209.7" x2="506.6" y2="1209.7" stroke="#000" stroke-width="1.3"/>
<line x1="468.6" y1="1239.7" x2="506.6" y2="1239.7" stroke="#000" stroke-width="1.3"/>
<line x1="468.6" y1="1269.6" x2="506.6" y2="1269.6" stroke="#000" stroke-width="1.3"/>
<line x1="468.6" y1="1299.5" x2="506.6" y2="1299.5" stroke="#000" stroke-width="1.3"/>
<text x="292" y="1042.0" font-size="25" text-anchor="end" fill="#000">18</text>
<text x="514" y="1042.0" font-size="25" fill="#000">18</text>
<text x="292" y="1072.0" font-size="25" text-anchor="end" fill="#000">17</text>
<text x="514" y="1072.0" font-size="25" fill="#000">17</text>
<text x="292" y="1101.9" font-size="25" text-anchor="end" fill="#000">16</text>
<text x="514" y="1101.9" font-size="25" fill="#000">16</text>
<text x="292" y="1131.8" font-size="25" text-anchor="end" fill="#000">15</text>
<text x="514" y="1131.8" font-size="25" fill="#000">15</text>
<text x="292" y="1161.8" font-size="25" text-anchor="end" fill="#000">14</text>
<text x="514" y="1161.8" font-size="25" fill="#000">14</text>
<text x="292" y="1191.8" font-size="25" text-anchor="end" fill="#000">13</text>
<text x="514" y="1191.8" font-size="25" fill="#000">13</text>
<text x="292" y="1221.7" font-size="25" text-anchor="end" fill="#000">12</text>
<text x="514" y="1221.7" font-size="25" fill="#000">12</text>
<text x="292" y="1251.7" font-size="25" text-anchor="end" fill="#000">11</text>
<text x="514" y="1251.7" font-size="25" fill="#000">11</text>
<text x="292" y="1281.6" font-size="25" text-anchor="end" fill="#000">10</text>
<text x="514" y="1281.6" font-size="25" fill="#000">10</text>
<text x="292" y="1311.5" font-size="25" text-anchor="end" fill="#000">9</text>
<text x="514" y="1311.5" font-size="25" fill="#000">9</text>
<text x="292" y="1341.5" font-size="25" text-anchor="end" fill="#000">8</text>
<text x="514" y="1341.5" font-size="25" fill="#000">8</text>
<rect x="297.5" y="1247.1" width="40.0" height="11.5" fill="#ff4000"/>
<rect x="293" y="1247.1" width="49.3" height="3.2" fill="#ff4000"/>
<rect x="293" y="1255.4" width="49.3" height="3.2" fill="#ff4000"/>
<rect x="467.6" y="1247.1" width="39.7" height="11.5" fill="#ff4000"/>
<rect x="463" y="1247.1" width="49.7" height="3.2" fill="#ff4000"/>
<rect x="463" y="1255.4" width="49.7" height="3.2" fill="#ff4000"/>
<rect x="349.7" y="1241" width="49.3" height="3" fill="#ff4000"/>
<rect x="406.2" y="1241" width="49.6" height="3" fill="#ff4000"/>
</svg>
</body></html>
